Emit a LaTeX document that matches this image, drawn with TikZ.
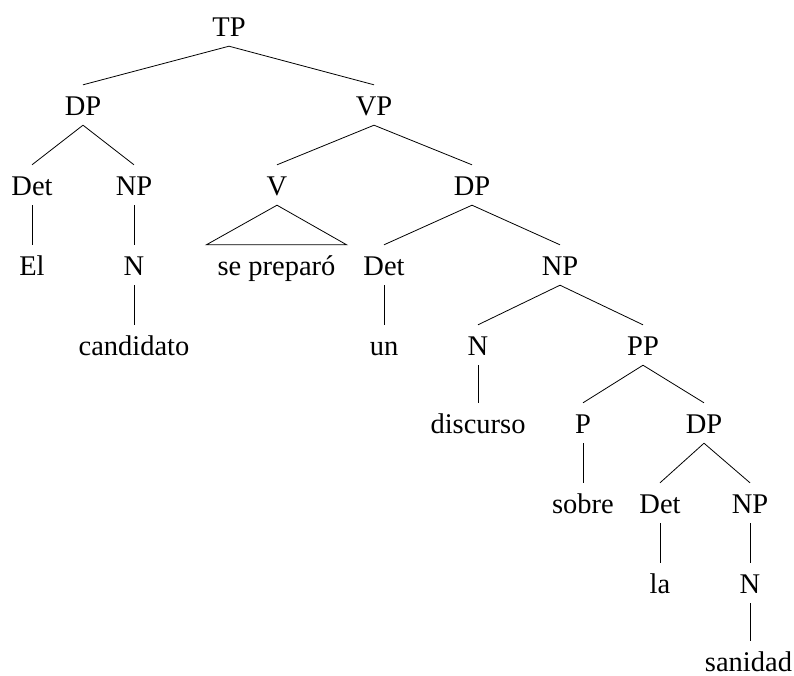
\documentclass[tikz,border=0pt]{standalone}
\usepackage{fontspec}
\setmainfont{Liberation Serif}
\begin{document}
\begin{tikzpicture}[x=1pt,y=-1pt,
  lbl/.style={anchor=base, inner xsep=11pt, inner ysep=10pt, text height=20pt, text depth=0pt, font=\fontsize{28.5}{32}\selectfont},
  leaf/.style={lbl, inner xsep=0pt, inner ysep=1pt, text height=29pt},
  edge/.style={draw=black, line width=0.8pt}]
\useasboundingbox (0,0) rectangle (794,675);
% level 1
\node[lbl] (tp) at (229,36) {TP};
% level 2
\node[lbl] (dp1) at (83,115) {DP};
\node[lbl] (vp) at (374,115) {VP};
% level 3
\node[lbl] (det1) at (32,195) {Det};
\node[lbl] (np1) at (134,195) {NP};
\node[lbl] (v) at (277,195) {V};
\node[lbl] (dp2) at (472,195) {DP};
% level 4
\node[lbl] (el) at (32,275) {El};
\node[lbl] (n1) at (134,275) {N};
\node[lbl] (sp) at (276.5,275) {se preparó};
\node[lbl] (det2) at (384,275) {Det};
\node[lbl] (np2) at (560,275) {NP};
% level 5
\node[lbl] (cand) at (134,355) {candidato};
\node[lbl] (un) at (384,355) {un};
\node[lbl] (n2) at (478,355) {N};
\node[lbl] (pp) at (643,355) {PP};
% level 6
\node[lbl] (disc) at (478,433) {discurso};
\node[lbl] (p) at (583,433) {P};
\node[lbl] (dp3) at (704,433) {DP};
% level 7
\node[lbl] (sobre) at (583,513) {sobre};
\node[lbl] (det3) at (660,513) {Det};
\node[lbl] (np3) at (750,513) {NP};
% level 8
\node[lbl] (la) at (660,593) {la};
\node[lbl] (n3) at (750,593) {N};
% level 9
\node[leaf] (san) at (748.5,671) {sanidad};

\draw[edge] (tp.south) -- (dp1.north);
\draw[edge] (tp.south) -- (vp.north);
\draw[edge] (dp1.south) -- (det1.north);
\draw[edge] (dp1.south) -- (np1.north);
\draw[edge] (vp.south) -- (v.north);
\draw[edge] (vp.south) -- (dp2.north);
\draw[edge] (det1.south) -- (el.north);
\draw[edge] (np1.south) -- (n1.north);
\draw[edge] (n1.south) -- (cand.north);
\draw[edge] (v.south) -- (sp.north west) -- (sp.north east) -- cycle;
\draw[edge] (dp2.south) -- (det2.north);
\draw[edge] (dp2.south) -- (np2.north);
\draw[edge] (det2.south) -- (un.north);
\draw[edge] (np2.south) -- (n2.north);
\draw[edge] (np2.south) -- (pp.north);
\draw[edge] (n2.south) -- (disc.north);
\draw[edge] (pp.south) -- (p.north);
\draw[edge] (pp.south) -- (dp3.north);
\draw[edge] (p.south) -- (sobre.north);
\draw[edge] (dp3.south) -- (det3.north);
\draw[edge] (dp3.south) -- (np3.north);
\draw[edge] (det3.south) -- (la.north);
\draw[edge] (np3.south) -- (n3.north);
\draw[edge] (n3.south) -- (n3.south |- san.north);
\end{tikzpicture}
\end{document}
